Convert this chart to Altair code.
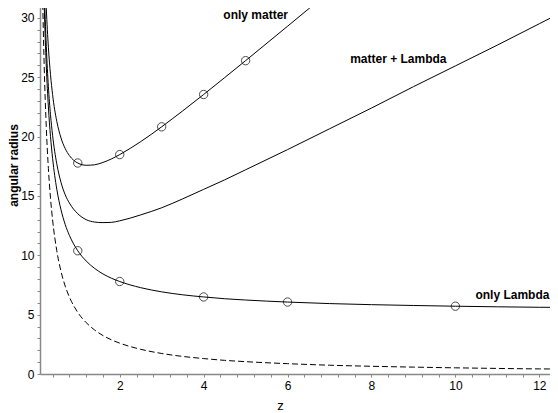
import altair as alt
import pandas as pd

# z grid for the curves
z_lines = [0.12, 0.15, 0.17, 0.2, 0.25, 0.3, 0.35, 0.4, 0.5, 0.6, 0.7, 0.8,
           1, 1.2, 1.4, 1.6, 1.8, 2, 2.5, 3, 3.5, 4, 4.5, 5, 6, 7,
           8, 9, 10, 11, 12, 12.5]

only_matter = [52.9, 44.4, 40.3, 35.85, 30.82, 27.52, 25.22, 23.53, 21.28, 19.89, 18.99, 18.40,
               17.77, 17.58, 17.62, 17.82, 18.11, 18.48, 19.57, 20.82, 22.16, 23.54, 24.96, 26.39,
               29.29, 32.21]

matter_lambda = [50.0, 41.3, 37.2, 32.7, 27.6, 24.2, 21.85, 20.1, 17.7, 16.15, 15.1, 14.4,
                 13.5, 13.0, 12.8, 12.75, 12.77, 12.9, 13.4, 14.0, 14.75, 15.55, 16.35, 17.2,
                 18.9, 20.65, 22.4, 24.2, 25.95, 27.7, 29.5, 30.4]

only_lambda = [48.4, 39.8, 35.7, 31.14, 25.95, 22.49, 20.02, 18.17, 15.57, 13.84, 12.60, 11.68,
               10.38, 9.52, 8.90, 8.43, 8.07, 7.79, 7.27, 6.92, 6.67, 6.49, 6.34, 6.23,
               6.06, 5.93, 5.84, 5.77, 5.71, 5.66, 5.62, 5.61]

euclid = [43.3, 34.6, 30.5, 25.95, 20.76, 17.3, 14.83, 12.98, 10.38, 8.65, 7.41, 6.49,
          5.19, 4.33, 3.71, 3.24, 2.88, 2.60, 2.08, 1.73, 1.48, 1.30, 1.15, 1.04,
          0.87, 0.74, 0.65, 0.58, 0.52, 0.47, 0.43, 0.42]

matter_pts_z = [1, 2, 3, 4, 5]
matter_pts = [17.77, 18.48, 20.82, 23.54, 26.39]
lambda_pts_z = [1, 2, 4, 6, 10]
lambda_pts = [10.38, 7.79, 6.49, 6.06, 5.71]

label_text = ["only matter", "matter + Lambda", "only Lambda"]
label_z = [5.24, 8.64, 11.36]
label_v = [30.25, 26.54, 6.68]

x_ticks = [round(0.4 * i, 1) for i in range(1, 31)]
y_ticks = list(range(0, 31))

solid = pd.DataFrame({
    "z": z_lines[:len(only_matter)] + z_lines + z_lines,
    "v": only_matter + matter_lambda + only_lambda,
    "curve": ["only matter"] * len(only_matter) + ["matter + Lambda"] * len(z_lines)
             + ["only Lambda"] * len(z_lines),
})
dashed_df = pd.DataFrame({"z": z_lines, "v": euclid})
pts = pd.DataFrame({"z": matter_pts_z + lambda_pts_z, "v": matter_pts + lambda_pts})
labels = pd.DataFrame({"t": label_text, "z": label_z, "v": label_v})

xs = alt.Scale(domain=[0.1, 12.255], nice=False, zero=False)
ys = alt.Scale(domain=[0, 31.5], nice=False, zero=False)

xaxis = alt.Axis(values=x_ticks, title="z", grid=False, labelOverlap=False, labelFlush=False,
                 labelExpr="abs(datum.value - round(datum.value/2)*2) < 0.01 ? format(datum.value, 'd') : ''",
                 titleX=240, titleY=31, titleBaseline="middle", titleFontWeight="normal",
                 titleFont="Liberation Sans", titleFontSize=13, titleColor="black")
yaxis = alt.Axis(values=y_ticks, title="angular radius", grid=False, labelOverlap=False,
                 labelFlush=False,
                 labelExpr="datum.value % 5 == 0 ? format(datum.value, 'd') : ''",
                 titleX=-26.5, titleY=165, titleAngle=270, titleAlign="center",
                 titleBaseline="middle", titleFont="Liberation Sans", titleFontSize=12,
                 titleFontWeight="bold", titleColor="black")

X = alt.X("z:Q", scale=xs, axis=xaxis)
Y = alt.Y("v:Q", scale=ys, axis=yaxis)

lines = alt.Chart(solid).mark_line(color="black", strokeWidth=1, clip=True,
                                   interpolate="monotone").encode(
    x=X, y=Y, detail="curve:N",
)
dashed = alt.Chart(dashed_df).mark_line(color="black", strokeWidth=1, clip=True,
                                        strokeDash=[6, 3], interpolate="monotone").encode(
    x=X, y=Y,
)
circles = alt.Chart(pts).mark_point(shape="circle", filled=False, color="black",
                                    size=70, strokeWidth=1).encode(
    x=X, y=Y,
)
texts = alt.Chart(labels).mark_text(font="Liberation Sans", fontSize=12, fontWeight="bold",
                                    color="black", align="center", baseline="middle").encode(
    x=X, y=Y, text="t:N",
)

chart = alt.layer(lines, dashed, circles, texts).properties(
    width=510, height=374,
    padding={"left": 32, "top": -8, "right": 0, "bottom": 38},
    autosize=alt.AutoSizeParams(type="none"),
).configure_view(stroke=None).configure_axis(
    domainColor="#888888", domainWidth=1.5, tickColor="#888888", tickSize=3, tickWidth=1,
    labelFont="Liberation Sans", labelFontSize=12, labelColor="black", labelPadding=3,
    labelOverlap=False,
)

chart.save("out.html", embed_options={"renderer": "svg", "actions": False})
